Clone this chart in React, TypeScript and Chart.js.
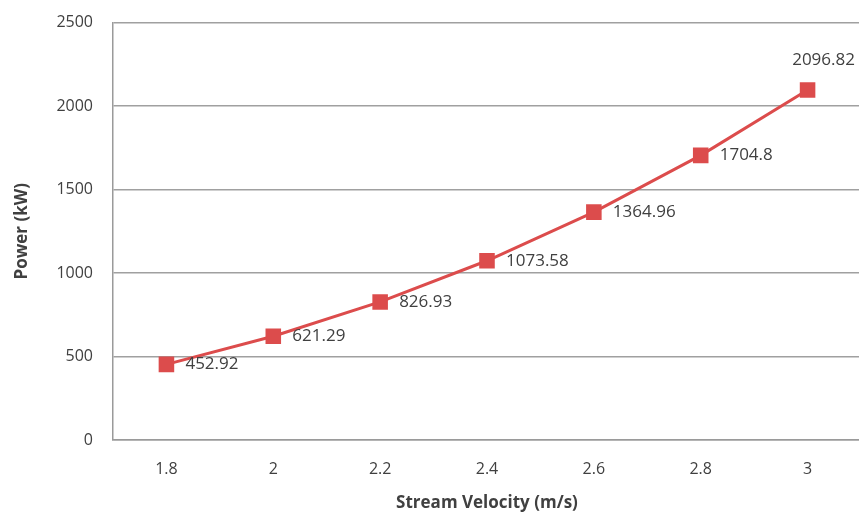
import React, { useEffect, useRef } from "react";
import { Chart, registerables } from "chart.js";

Chart.register(...registerables);

const categories = ["1.8", "2", "2.2", "2.4", "2.6", "2.8", "3"];
const powerValues = [452.92, 621.29, 826.93, 1073.58, 1364.96, 1704.8, 2096.82];
const pointLabels = ["452.92", "621.29", "826.93", "1073.58", "1364.96", "1704.8", "2096.82"];
const yTicks = [0, 500, 1000, 1500, 2000, 2500];

const FONT = "'Open Sans', 'Liberation Sans', sans-serif";
const RED = "#DC4C4C";

const labelPlugin = {
  id: "pointLabels",
  afterDatasetsDraw(chart: any) {
    const ctx = chart.ctx;
    const meta = chart.getDatasetMeta(0);
    ctx.save();
    ctx.font = `17px ${FONT}`;
    ctx.fillStyle = "#404040";
    meta.data.forEach((pt: any, i: number) => {
      const last = i === meta.data.length - 1;
      if (last) {
        ctx.textAlign = "center";
        ctx.textBaseline = "middle";
        ctx.fillText(pointLabels[i], pt.x + 16, pt.y - 30);
      } else {
        ctx.textAlign = "left";
        ctx.textBaseline = "middle";
        ctx.fillText(pointLabels[i], pt.x + 19, pt.y);
      }
    });
    ctx.restore();
  },
};

export default function App() {
  const ref = useRef<HTMLCanvasElement | null>(null);
  useEffect(() => {
    if (!ref.current) return;
    const chart = new Chart(ref.current, {
      type: "line",
      data: {
        labels: categories,
        datasets: [
          {
            data: powerValues,
            borderColor: RED,
            backgroundColor: RED,
            borderWidth: 3,
            pointStyle: "rect",
            pointRadius: 11,
            pointBorderWidth: 0,
            pointBackgroundColor: RED,
            tension: 0,
          },
        ],
      },
      options: {
        animation: false,
        responsive: false,
        maintainAspectRatio: false,
        layout: { padding: { top: 14, right: 0, left: 0, bottom: 0 } },
        plugins: {
          legend: { display: false },
          tooltip: { enabled: false },
        },
        scales: {
          x: {
            offset: true,
            grid: { display: false, drawTicks: false },
            border: { display: true, color: "#9a9a9a", width: 1.5 },
            ticks: {
              color: "#404040",
              font: { family: FONT, size: 16 },
              padding: 20,
            },
            title: {
              display: true,
              text: "Stream Velocity (m/s)",
              color: "#404040",
              font: { family: FONT, size: 17, weight: "bold" },
              padding: { top: 2, bottom: 0 },
            },
            afterFit(scale: any) {
              scale.height = 73;
            },
          },
          y: {
            min: 0,
            max: 2500,
            afterBuildTicks(scale: any) {
              scale.ticks = yTicks.map((v) => ({ value: v }));
            },
            grid: { color: "#a0a0a0", lineWidth: 1.5, drawTicks: false },
            border: { display: true, color: "#9a9a9a", width: 1.5 },
            ticks: {
              color: "#404040",
              font: { family: FONT, size: 16 },
              padding: 20,
              callback: (v: any) => String(v),
            },
            title: {
              display: true,
              text: "Power (kW)",
              color: "#404040",
              font: { family: FONT, size: 17, weight: "bold" },
              padding: { top: 12, bottom: 8 },
            },
            afterFit(scale: any) {
              scale.width = 113;
            },
          },
        },
      },
      plugins: [labelPlugin],
    });
    return () => chart.destroy();
  }, []);
  return (
    <div style={{ position: "absolute", left: 0, top: 0, width: 859, height: 513, overflow: "hidden", background: "#fff" }}>
      <canvas
        ref={ref}
        width={872}
        height={520}
        style={{ position: "absolute", left: 0, top: -7, width: 872, height: 520 }}
      />
    </div>
  );
}
